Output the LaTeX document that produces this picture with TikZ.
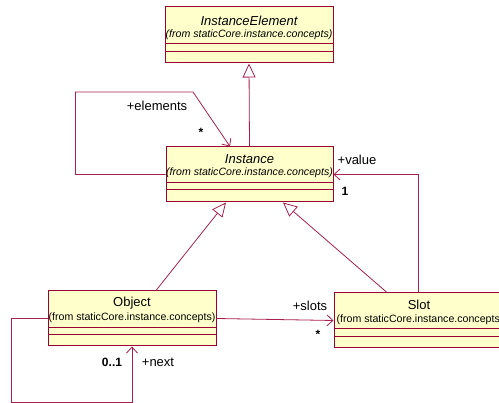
\documentclass[tikz,border=0pt]{standalone}
\usepackage{fontspec}
\setmainfont{Liberation Sans}
\usetikzlibrary{arrows.meta}
\definecolor{boxfill}{HTML}{FFFFCC}
\definecolor{boxline}{HTML}{990033}
\definecolor{conn}{HTML}{A8204E}
\tikzset{
  cls/.style={draw=boxline, fill=boxfill, line width=1pt, inner sep=0pt},
  cname/.style={font=\fontsize{13}{15}\selectfont, inner sep=0pt},
  cnamei/.style={font=\fontsize{13}{15}\selectfont\itshape, inner sep=0pt},
  cfrom/.style={font=\fontsize{10.6}{12}\selectfont, inner sep=0pt},
  cfromi/.style={font=\fontsize{10.6}{12}\selectfont\itshape, inner sep=0pt},
  lbl/.style={font=\fontsize{13}{15}\selectfont, inner sep=0pt},
  mult/.style={font=\fontsize{12}{14}\selectfont\bfseries, inner sep=0pt},
  gen/.style={draw=conn, line width=0.8pt, -{Triangle[open, length=14pt, width=13pt, fill=white]}},
  assoc/.style={draw=conn, line width=0.8pt, -{Straight Barb[length=6pt, width=11pt]}},
}
\begin{document}
\begin{tikzpicture}[x=1pt, y=-1pt]
\useasboundingbox (0,0) rectangle (499,403);
% InstanceElement
\node[cls, minimum width=168pt, minimum height=56pt] (ie) at (249,35) {};
\draw[boxline, line width=0.8pt] (165,43) -- (333,43) (165,51) -- (333,51);
\node[cnamei] (ien) at (249,21) {InstanceElement};
\node[cfromi] (ief) at (249,35) {(from staticCore.instance.concepts)};
% Instance
\node[cls, minimum width=167pt, minimum height=55pt] (inst) at (249.5,174.5) {};
\draw[boxline, line width=0.8pt] (166,182) -- (333,182) (166,189) -- (333,189);
\node[cnamei] (instn) at (249.5,159) {Instance};
\node[cfromi] (instf) at (249.5,173) {(from staticCore.instance.concepts)};
% Object
\node[cls, minimum width=168pt, minimum height=55pt] (obj) at (132,318.5) {};
\draw[boxline, line width=0.8pt] (48,327) -- (216,327) (48,334) -- (216,334);
\node[cname] (objn) at (132,303) {Object};
\node[cfrom] (objf) at (132,318) {(from staticCore.instance.concepts)};
% Slot
\node[cls, minimum width=170pt, minimum height=55pt] (slot) at (419,320.5) {};
\draw[boxline, line width=0.8pt] (334,328) -- (504,328) (334,336) -- (504,336);
\node[cname] (slotn) at (419,305) {Slot};
\node[cfrom] (slotf) at (420,320) {(from staticCore.instance.concepts)};
% generalizations
\draw[gen] (inst.north) -- (ie.south);
\draw[gen] ([xshift=24pt]obj.north) -- ([xshift=-23.5pt]inst.south);
\draw[gen] ([xshift=-32pt]slot.north) -- ([xshift=33.5pt]inst.south);
% associations
\draw[assoc] ([xshift=-1pt]slot.north) |- (inst.east);
\draw[assoc] (inst.west) -- ++(-90,0) |- (193,92) -- ([xshift=-19.5pt]inst.north);
\draw[assoc] (obj.east) -- (slot.west);
\draw[assoc] (obj.west) -- ++(-36,0) |- (132,402) -- (obj.south);
% labels
\node[lbl] (l1) at (157,106) {+elements};
\node[mult] (l2) at (201,132) {*};
\node[lbl] (l3) at (357,160) {+value};
\node[mult] (l4) at (345,191) {1};
\node[lbl] (l5) at (310,306) {+slots};
\node[mult] (l6) at (318,334) {*};
\node[mult] (l7) at (112,362) {0..1};
\node[lbl] (l8) at (158,362) {+next};
\end{tikzpicture}
\end{document}
